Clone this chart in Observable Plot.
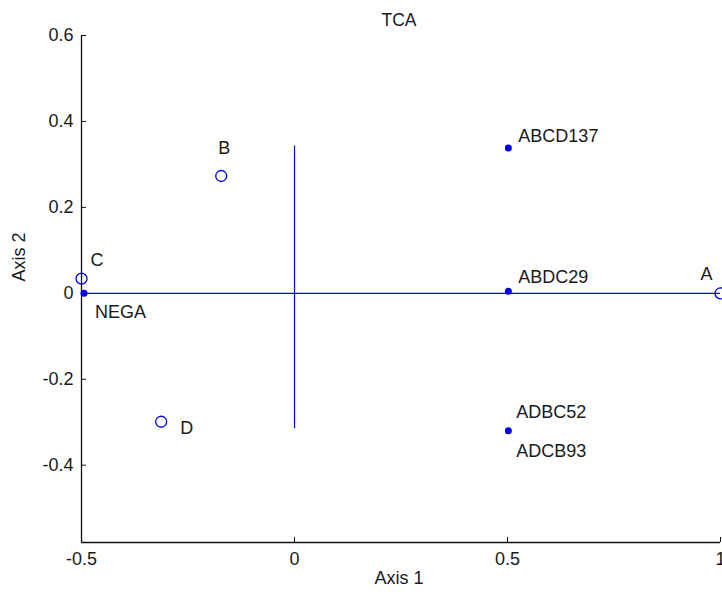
<!DOCTYPE html>
<html>
<head>
<meta charset="utf-8">
<script src="https://cdn.jsdelivr.net/npm/d3@7"></script>
<script src="https://cdn.jsdelivr.net/npm/@observablehq/plot@0.6"></script>
<style>
  html, body { margin: 0; padding: 0; background: #fff; }
  svg { display: block; }
</style>
</head>
<body>
<div id="chart"></div>
<script>
// Column points (open circles)
const colLabels = ["A", "B", "C", "D"];
const colX = [1, -0.172, -0.5, -0.313];
const colY = [0, 0.273, 0.034, -0.299];

// Row points (filled dots)
const rowLabels = ["NEGA", "ABCD137", "ABDC29", "ADBC52"];
const rowX = [-0.494, 0.502, 0.502, 0.502];
const rowY = [0, 0.338, 0.005, -0.32];
const extraLabel = "ADCB93"; // shares the ADBC52 point

// Reference lines
const hLineX = [-0.494, 1];
const vLineY = [-0.315, 0.343];

const xTicks = [-0.5, 0, 0.5, 1];
const yTicks = [-0.4, -0.2, 0, 0.2, 0.4, 0.6];
const xDomain = [-0.5, 1];
const yDomain = [-0.58, 0.6];

const cols = colLabels.map((l, i) => ({label: l, x: colX[i], y: colY[i]}));
const rows = rowLabels.map((l, i) => ({label: l, x: rowX[i], y: rowY[i]}));

const blue = "#0000e6";
const font = "'Liberation Sans', Arial, sans-serif";

const txt = (i, opts) => Plot.text([cols[i]], {x: "x", y: "y", text: "label", fontSize: 18, fill: "#1a1a1a", ...opts});
const rtxt = (d, opts) => Plot.text([d], {x: "x", y: "y", text: "label", fontSize: 18, fill: "#1a1a1a", textAnchor: "start", ...opts});

const chart = Plot.plot({
  width: 722,
  height: 595,
  marginLeft: 81,
  marginRight: 2,
  marginTop: 35,
  marginBottom: 53,
  style: {fontFamily: font, background: "#fff"},
  x: {domain: xDomain},
  y: {domain: yDomain},
  marks: [
    Plot.ruleY([0], {x1: hLineX[0], x2: hLineX[1], stroke: blue, strokeWidth: 1.2}),
    Plot.ruleX([0], {y1: vLineY[0], y2: vLineY[1], stroke: blue, strokeWidth: 1.2}),
    Plot.ruleX([xDomain[0]], {stroke: "#111", strokeWidth: 1.3}),
    Plot.ruleY([yDomain[0]], {stroke: "#111", strokeWidth: 1.3}),
    Plot.axisX({ticks: xTicks, tickSize: -5, tickPadding: 15, tickFormat: d => String(d), fontSize: 18, label: null, stroke: "#111", color: "#1a1a1a"}),
    Plot.axisY({ticks: yTicks, tickSize: -5, tickPadding: 13, tickFormat: d => String(d), fontSize: 18, label: null, stroke: "#111", color: "#1a1a1a"}),
    Plot.dot(cols, {x: "x", y: "y", r: 5.5, stroke: blue, strokeWidth: 1.3, fill: "none"}),
    Plot.dot(rows, {x: "x", y: "y", r: 3.5, fill: blue, stroke: "none"}),
    txt(0, {dx: -14, dy: -19}),
    txt(1, {dx: 3, dy: -28}),
    txt(2, {dx: 9, dy: -18, textAnchor: "start"}),
    txt(3, {dx: 19, dy: 6, textAnchor: "start"}),
    rtxt(rows[0], {dx: 11, dy: 19}),
    rtxt(rows[1], {dx: 10, dy: -12}),
    rtxt(rows[2], {dx: 10, dy: -14}),
    rtxt(rows[3], {dx: 8, dy: -19}),
    rtxt({...rows[3], label: extraLabel}, {dx: 8, dy: 20}),
    Plot.text(["TCA"], {frameAnchor: "top", dx: -2, dy: -22, fontSize: 17.5, fill: "#1a1a1a"}),
    Plot.text(["Axis 1"], {frameAnchor: "bottom", dx: -2, dy: 41, fontSize: 18, fill: "#1a1a1a"}),
    Plot.text(["Axis 2"], {frameAnchor: "left", dx: -62.5, dy: -7.5, rotate: -90, fontSize: 18, fill: "#1a1a1a"})
  ]
});
document.getElementById("chart").appendChild(chart);
</script>
</body>
</html>
